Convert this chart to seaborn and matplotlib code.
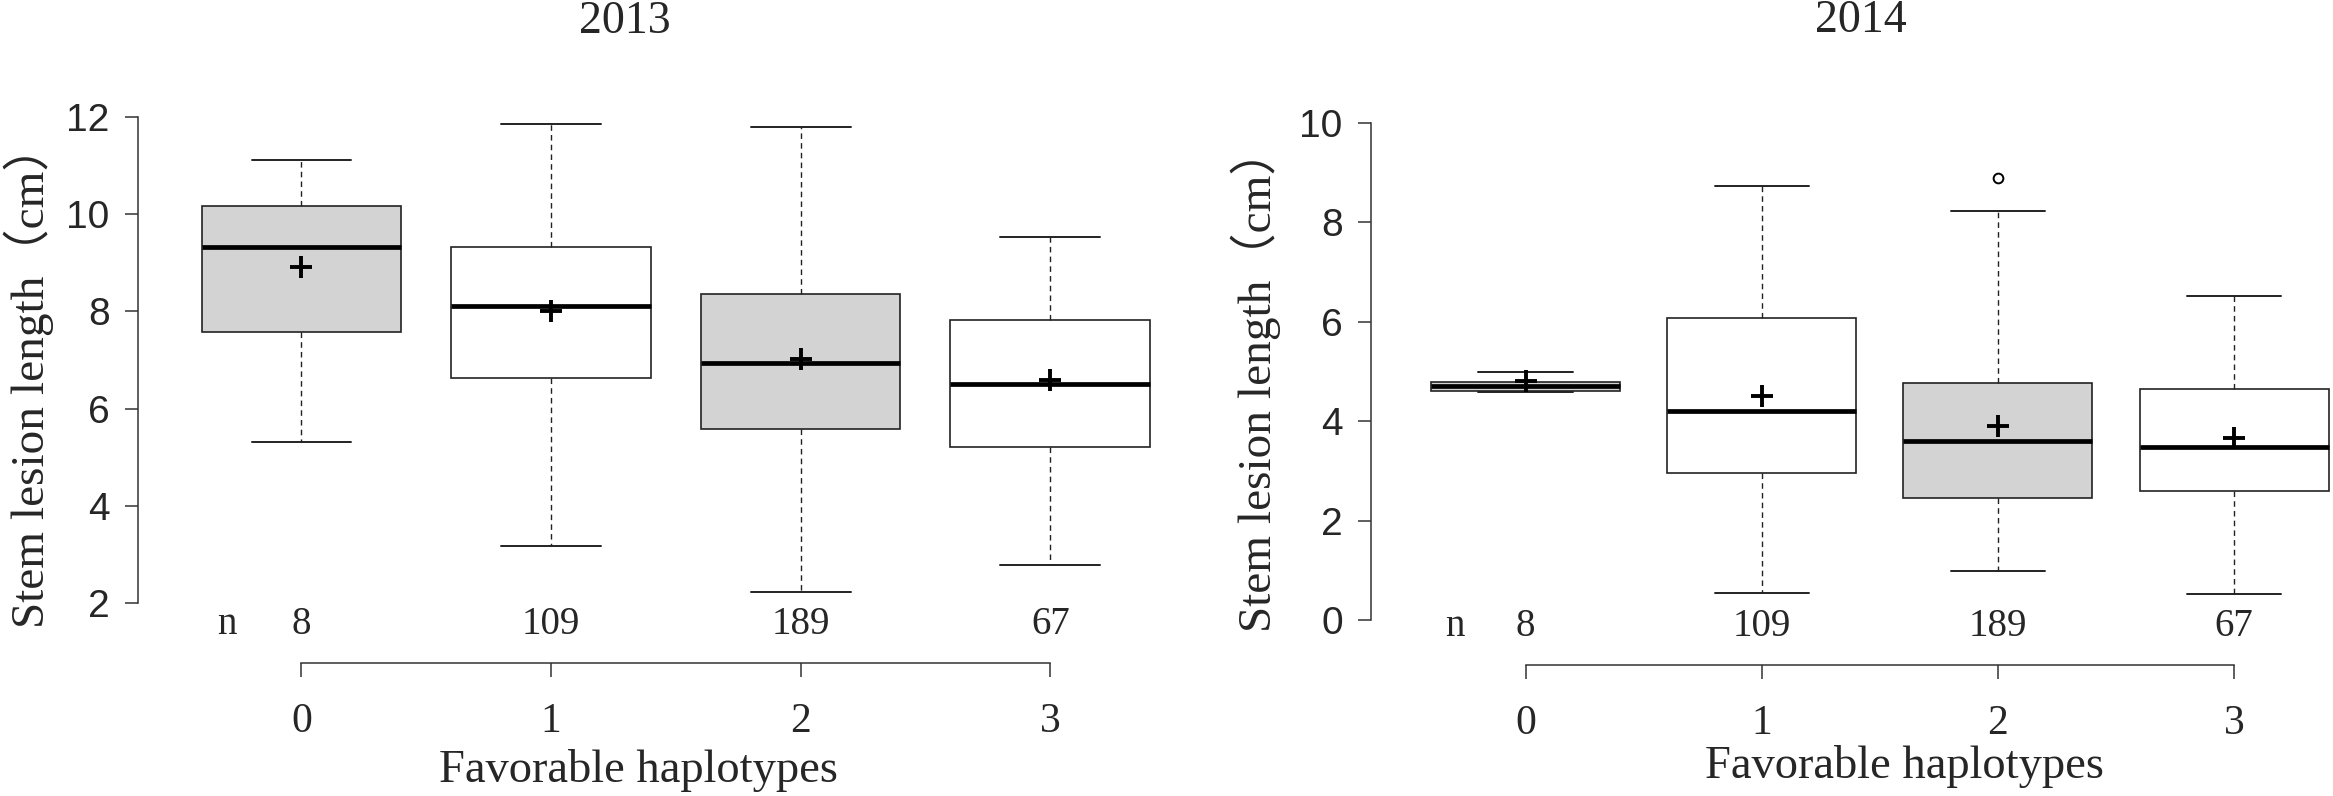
import numpy as np
import matplotlib
matplotlib.use("Agg")
import matplotlib.pyplot as plt
import seaborn as sns

# Groups (number of favorable haplotypes) and sample sizes
groups = ["0", "1", "2", "3"]
n_count = [8, 109, 189, 67]
fills = ["#D3D3D3", "white", "#D3D3D3", "white"]

# 2013 box statistics (cm)
q1_2013 = [7.57, 6.62, 5.59, 5.21]
med_2013 = [9.32, 8.12, 6.93, 6.51]
q3_2013 = [10.17, 9.33, 8.36, 7.82]
lo_2013 = [5.32, 3.17, 2.22, 2.78]
hi_2013 = [11.11, 11.86, 11.79, 9.54]
mean_2013 = [8.91, 8.00, 7.03, 6.58]
out_2013 = [[], [], [], []]

# 2014 box statistics (cm)
q1_2014 = [4.61, 2.96, 2.45, 2.59]
med_2014 = [4.70, 4.21, 3.59, 3.47]
q3_2014 = [4.78, 6.08, 4.77, 4.64]
lo_2014 = [4.59, 0.54, 0.98, 0.52]
hi_2014 = [4.98, 8.73, 8.23, 6.52]
mean_2014 = [4.81, 4.51, 3.91, 3.65]
out_2014 = [[], [], [8.89], []]

sns.set_style("ticks")
plt.rcParams['font.family'] = ['Liberation Serif', 'Noto Sans CJK SC', 'DejaVu Serif']

W, H = 2333, 796
fig = plt.figure(figsize=(W / 100, H / 100), dpi=100)


def px_axes(left, right, top, bottom):
    return fig.add_axes([left / W, 1 - bottom / H, (right - left) / W, (bottom - top) / H])


line_col = "#333333"


def draw_panel(ax, q1, med, q3, lo, hi, mean, fliers, ylim, yticks, n_y, outward):
    stats = []
    for i in range(len(groups)):
        stats.append(dict(q1=q1[i], med=med[i], q3=q3[i], whislo=lo[i], whishi=hi[i],
                          mean=mean[i], fliers=fliers[i]))
    pos = np.arange(len(groups))
    bp = ax.bxp(stats, positions=pos, widths=0.8, capwidths=0.4, patch_artist=True,
                showmeans=True,
                boxprops=dict(linewidth=1.2, edgecolor="#222222"),
                medianprops=dict(color="black", linewidth=3.4, solid_capstyle="butt"),
                whiskerprops=dict(color="#222222", linewidth=1.0, linestyle=(0, (4, 3))),
                capprops=dict(color="#222222", linewidth=1.4),
                meanprops=dict(marker="+", markersize=16, markeredgewidth=2.8,
                               markeredgecolor="black", linestyle="none"),
                flierprops=dict(marker="o", markersize=7, markerfacecolor="none",
                                markeredgecolor="black", markeredgewidth=1.4))
    for patch, c in zip(bp["boxes"], fills):
        patch.set_facecolor(c)

    ax.set_xlim(-0.655, 3.62)
    ax.set_ylim(ylim)
    sns.despine(ax=ax)
    ax.spines["left"].set_bounds(yticks[0], yticks[-1])
    ax.spines["bottom"].set_bounds(0, 3)
    ax.spines["bottom"].set_position(("outward", outward))
    for s in ("left", "bottom"):
        ax.spines[s].set_color(line_col)
        ax.spines[s].set_linewidth(1.1)

    ax.set_yticks(yticks)
    ax.set_yticklabels([str(t) for t in yticks])
    ax.tick_params(axis="y", length=9.4, width=1.1, pad=11, labelsize=28, color=line_col)
    for lab in ax.get_yticklabels():
        lab.set_fontfamily("Liberation Sans")
    ax.set_xticks(pos)
    ax.set_xticklabels(groups)
    ax.tick_params(axis="x", length=10.4, width=1.1, pad=18, labelsize=30, color=line_col)

    # sample sizes
    ax.text(-0.3, n_y, "n", ha="center", va="center", fontsize=28)
    for i, n in enumerate(n_count):
        ax.text(pos[i], n_y, str(n), ha="center", va="center", fontsize=28)


ax1 = px_axes(138, 1205, 97.6, 622.4)
draw_panel(ax1, q1_2013, med_2013, q3_2013, lo_2013, hi_2013, mean_2013, out_2013,
           (1.6, 12.4), [2, 4, 6, 8, 10, 12], 1.55, 29)

ax2 = px_axes(1371, 2380.5, 102.6, 640)
draw_panel(ax2, q1_2014, med_2014, q3_2014, lo_2014, hi_2014, mean_2014, out_2014,
           (-0.4, 10.4), [0, 2, 4, 6, 8, 10], -0.12, 17.7)

ylab = "Stem lesion length\uff08cm\uff09"
fig.text(29 / W, 1 - 376 / H, ylab, rotation=90, ha="center", va="center", fontsize=34)
fig.text(1256 / W, 1 - 380 / H, ylab, rotation=90, ha="center", va="center", fontsize=34)

fig.text(638 / W, 1 - 770 / H, "Favorable haplotypes", ha="center", va="center", fontsize=33.5)
fig.text(1904 / W, 1 - 766 / H, "Favorable haplotypes", ha="center", va="center", fontsize=33.5)

fig.text(625 / W, 1 - 22 / H, "2013", ha="center", va="center", fontsize=33)
fig.text(1861 / W, 1 - 21 / H, "2014", ha="center", va="center", fontsize=33)

fig.savefig("out.png", dpi=100)
